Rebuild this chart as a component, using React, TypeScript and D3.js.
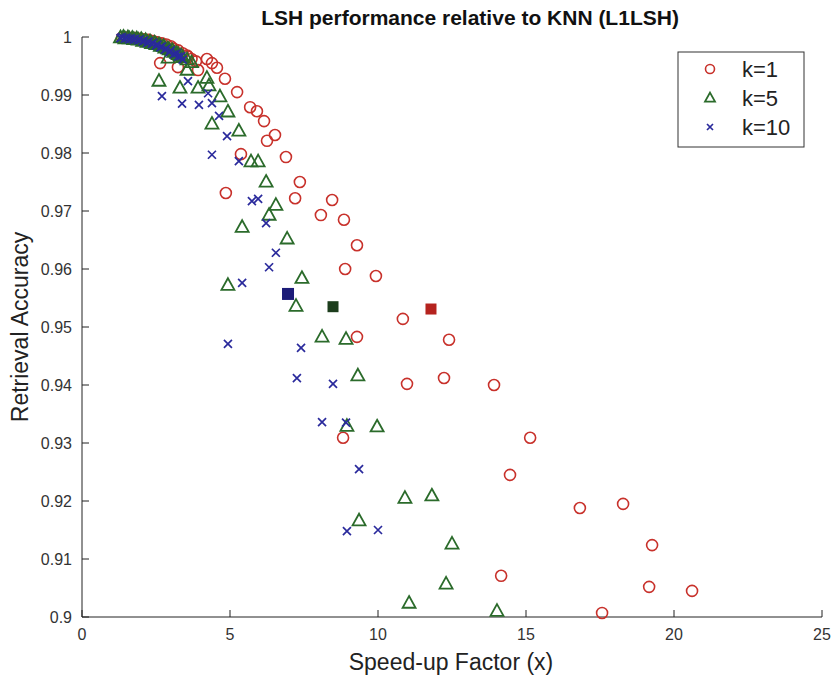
import * as d3 from "d3";
import React from "react";

// speed-up factor, retrieval accuracy
const k1Points: [number, number][] = [
  [1.35, 0.9999], [1.5, 0.9999], [1.65, 0.9998], [1.8, 0.9998], [1.95, 0.9997],
  [2.1, 0.9996], [2.25, 0.9995], [2.4, 0.9993], [2.55, 0.9991], [2.7, 0.9989],
  [2.85, 0.9987], [3.0, 0.9984], [3.1, 0.998], [3.25, 0.9977], [3.4, 0.9972],
  [3.55, 0.9968], [3.7, 0.9962], [3.85, 0.9958],
  [2.64, 0.9955], [3.24, 0.9948], [3.92, 0.9943], [4.22, 0.9962], [4.39, 0.9955],
  [4.56, 0.9947], [3.58, 0.9966], [4.83, 0.9928], [5.24, 0.9905], [5.68, 0.9879],
  [5.91, 0.9872], [6.15, 0.9855], [6.52, 0.9831], [6.25, 0.9821], [5.37, 0.9798],
  [6.89, 0.9793], [7.36, 0.975], [4.86, 0.9731], [7.2, 0.9722], [8.45, 0.9719],
  [8.07, 0.9693], [8.85, 0.9685], [9.29, 0.9641], [8.89, 0.96], [9.93, 0.9588],
  [10.84, 0.9514], [9.29, 0.9483], [12.4, 0.9478], [10.98, 0.9402], [12.23, 0.9412],
  [13.92, 0.94], [8.82, 0.9309], [15.14, 0.9309], [14.46, 0.9245], [16.82, 0.9188],
  [18.28, 0.9195], [19.26, 0.9124], [19.16, 0.9052], [20.61, 0.9045], [14.16, 0.9071],
  [17.57, 0.9007],
];

const k5Points: [number, number][] = [
  [1.3, 0.9999], [1.4, 1.0], [1.45, 0.9997], [1.55, 0.9999], [1.6, 0.9997],
  [1.7, 0.9998], [1.75, 0.9996], [1.85, 0.9997], [1.9, 0.9995], [2.0, 0.9996],
  [2.05, 0.9993], [2.15, 0.9994], [2.2, 0.9991], [2.3, 0.9992], [2.35, 0.9989],
  [2.45, 0.999], [2.5, 0.9987], [2.6, 0.9987], [2.65, 0.9984], [2.75, 0.9984],
  [2.8, 0.9981], [2.9, 0.998], [2.95, 0.9978], [3.05, 0.9977], [3.1, 0.9974],
  [3.2, 0.9972], [3.25, 0.997], [3.35, 0.9968], [3.4, 0.9965], [3.55, 0.9961],
  [3.7, 0.9956],
  [2.6, 0.9924], [2.91, 0.9964], [3.55, 0.9943], [3.31, 0.9912], [3.92, 0.9912],
  [4.22, 0.9929], [4.29, 0.9916], [4.66, 0.9897], [4.93, 0.9871], [4.39, 0.985],
  [5.3, 0.9838], [5.71, 0.9785], [5.95, 0.9785], [6.22, 0.975], [6.55, 0.971],
  [6.32, 0.9693], [5.41, 0.9672], [6.93, 0.9652], [7.43, 0.9584], [4.93, 0.9572],
  [7.23, 0.9536], [8.11, 0.9483], [8.92, 0.9479], [9.32, 0.9416], [8.95, 0.9329],
  [9.97, 0.9328], [10.91, 0.9205], [11.82, 0.9209], [9.36, 0.9166], [12.5, 0.9126],
  [12.3, 0.9057], [11.05, 0.9024], [14.02, 0.901],
];

const k10Points: [number, number][] = [
  [1.3, 0.9998], [1.35, 1.0], [1.45, 0.9997], [1.5, 0.9999], [1.6, 0.9996],
  [1.65, 0.9998], [1.75, 0.9995], [1.8, 0.9997], [1.9, 0.9994], [1.95, 0.9996],
  [2.05, 0.9992], [2.1, 0.9994], [2.2, 0.999], [2.25, 0.9992], [2.35, 0.9988],
  [2.4, 0.999], [2.5, 0.9985], [2.55, 0.9987], [2.65, 0.9982], [2.7, 0.9984],
  [2.8, 0.9978], [2.85, 0.998], [2.95, 0.9974], [3.0, 0.9977], [3.1, 0.997],
  [3.2, 0.9972], [3.25, 0.9966], [3.35, 0.9967], [3.4, 0.9961],
  [2.7, 0.9898], [3.58, 0.9924], [3.38, 0.9885], [3.95, 0.9883], [4.26, 0.9903],
  [4.39, 0.9886], [4.63, 0.9864], [4.9, 0.9829], [4.39, 0.9797], [5.3, 0.9786],
  [5.74, 0.9717], [5.95, 0.9721], [6.22, 0.9679], [6.55, 0.9628], [6.32, 0.9603],
  [5.41, 0.9576], [4.93, 0.9471], [7.4, 0.9464], [7.26, 0.9412], [8.48, 0.9402],
  [8.11, 0.9336], [8.92, 0.9335], [9.36, 0.9255], [8.95, 0.9148], [10.0, 0.915],
];

// highlighted operating points (filled squares)
const k1Square: [number, number] = [11.79, 0.9531];
const k5Square: [number, number] = [8.48, 0.9535];
const k10Square: [number, number] = [6.96, 0.9557];

const xTicks = [0, 5, 10, 15, 20, 25];
const yTicks = [0.9, 0.91, 0.92, 0.93, 0.94, 0.95, 0.96, 0.97, 0.98, 0.99, 1];
const legendLabels = ["k=1", "k=5", "k=10"];

const RED = "#c8312b";
const GREEN = "#2b6b2b";
const BLUE = "#2a2a9c";
const FONT = "'Liberation Sans', Arial, Helvetica, sans-serif";

const W = 831;
const H = 679;

const x = d3.scaleLinear().domain([0, 25]).range([82, 822]);
const y = d3.scaleLinear().domain([0.9, 1]).range([617, 37]);

function Circle({ cx, cy, r, color }: any) {
  return <circle cx={cx} cy={cy} r={r} fill="none" stroke={color} strokeWidth={1.6} />;
}

function Tri({ cx, cy, s, color }: any) {
  const h = s * 0.9;
  const d = `M${cx},${cy - h * 0.6}L${cx + s / 2},${cy + h * 0.4}L${cx - s / 2},${cy + h * 0.4}Z`;
  return <path d={d} fill="none" stroke={color} strokeWidth={1.8} strokeLinejoin="miter" />;
}

function Cross({ cx, cy, s, color }: any) {
  const a = s / 2;
  return (
    <path
      d={`M${cx - a},${cy - a}L${cx + a},${cy + a}M${cx - a},${cy + a}L${cx + a},${cy - a}`}
      stroke={color}
      strokeWidth={1.7}
    />
  );
}

export default function App() {
  return (
    <svg
      width={W}
      height={H}
      style={{ display: "block", position: "absolute", left: 0, top: 0, background: "#fff" }}
      fontFamily={FONT}
    >
      <rect width={W} height={H} fill="#fff" />

      {/* title */}
      <text x={470} y={25} textAnchor="middle" fontSize={21} fontWeight="bold" fill="#111">
        LSH performance relative to KNN (L1LSH)
      </text>

      {/* axes */}
      <line x1={x(0)} x2={x(25)} y1={y(0.9)} y2={y(0.9)} stroke="#222" strokeWidth={1} />
      <line x1={x(0)} x2={x(0)} y1={y(0.9)} y2={y(1)} stroke="#222" strokeWidth={1} />
      {xTicks.map((t) => (
        <g key={"x" + t}>
          <line x1={x(t)} x2={x(t)} y1={y(0.9)} y2={y(0.9) - 7} stroke="#222" />
          <text x={x(t)} y={y(0.9) + 23} textAnchor="middle" fontSize={16} fill="#333">
            {t}
          </text>
        </g>
      ))}
      {yTicks.map((t) => (
        <g key={"y" + t}>
          <line x1={x(0)} x2={x(0) + 7} y1={y(t)} y2={y(t)} stroke="#222" />
          <text x={x(0) - 10} y={y(t) + 6} textAnchor="end" fontSize={16} fill="#333">
            {d3.format("~g")(t)}
          </text>
        </g>
      ))}

      <text x={451} y={670} textAnchor="middle" fontSize={23} fill="#222">
        Speed-up Factor (x)
      </text>
      <text
        transform={`translate(28,${(y(0.9) + y(1)) / 2}) rotate(-90)`}
        textAnchor="middle"
        fontSize={23}
        fill="#222"
      >
        Retrieval Accuracy
      </text>

      {/* data */}
      <g>
        {k1Points.map((p, i) => (
          <Circle key={"r" + i} cx={x(p[0])} cy={y(p[1])} r={5.5} color={RED} />
        ))}
      </g>
      <g>
        {k5Points.map((p, i) => (
          <Tri key={"g" + i} cx={x(p[0])} cy={y(p[1])} s={13} color={GREEN} />
        ))}
      </g>
      <g>
        {k10Points.map((p, i) => (
          <Cross key={"b" + i} cx={x(p[0])} cy={y(p[1])} s={8} color={BLUE} />
        ))}
      </g>
      <rect x={x(k10Square[0]) - 6} y={y(k10Square[1]) - 6} width={12} height={12} fill="#1c1c78" />
      <rect x={x(k5Square[0]) - 5.5} y={y(k5Square[1]) - 5.5} width={11} height={11} fill="#1c3d1c" />
      <rect x={x(k1Square[0]) - 5.5} y={y(k1Square[1]) - 5.5} width={11} height={11} fill="#b5231e" />

      {/* legend */}
      <rect x={678} y={52} width={126} height={95} fill="#fff" stroke="#333" strokeWidth={1} />
      {legendLabels.map((lab, i) => {
        const cy = 69 + i * 29;
        return (
          <g key={lab}>
            {i === 0 && <Circle cx={710} cy={cy} r={4.5} color={RED} />}
            {i === 1 && <Tri cx={710} cy={cy} s={10} color={GREEN} />}
            {i === 2 && <Cross cx={710} cy={cy} s={6} color={BLUE} />}
            <text x={742} y={cy + 8} fontSize={22} fill="#222">
              {lab}
            </text>
          </g>
        );
      })}
    </svg>
  );
}
